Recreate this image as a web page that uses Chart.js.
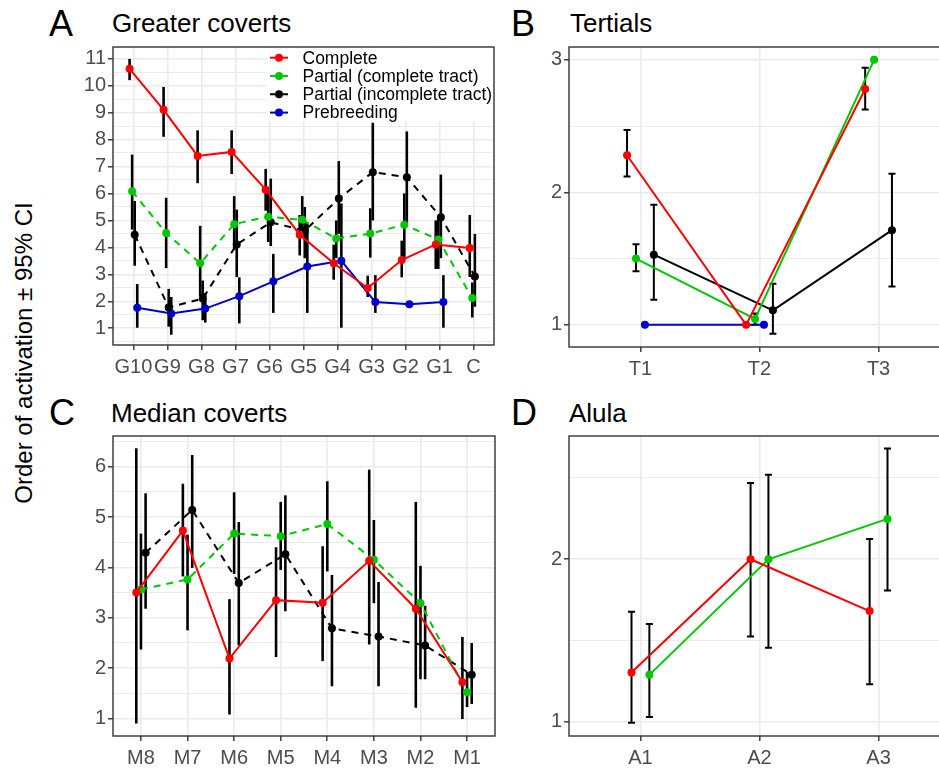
<!DOCTYPE html>
<html>
<head>
<meta charset="utf-8">
<script src="https://cdn.jsdelivr.net/npm/chart.js@4.4.0/dist/chart.umd.min.js"></script>
<style>
  body { margin: 0; width: 939px; height: 769px; overflow: hidden; background: #fff; position: relative;
         font-family: "Liberation Sans", Arial, sans-serif; }
  canvas { position: absolute; }
  .letter { position: absolute; font-size: 36px; line-height: 1; color: #000; }
  .title { position: absolute; font-size: 26px; line-height: 1; color: #000; white-space: nowrap; }
  #ytitle { position: absolute; left: 24px; top: 353px; font-size: 24px; white-space: nowrap; color: #000;
            transform: translate(-50%, -50%) rotate(-90deg); }
</style>
</head>
<body>
<div id="ytitle">Order of activation ± 95% CI</div>
<div class="letter" style="left:49px; top:6px">A</div>
<div class="letter" style="left:511px; top:6px">B</div>
<div class="letter" style="left:49px; top:395px">C</div>
<div class="letter" style="left:511px; top:395px">D</div>
<div class="title" style="left:112px; top:10px">Greater coverts</div>
<div class="title" style="left:570px; top:10px">Tertials</div>
<div class="title" style="left:111px; top:400px">Median coverts</div>
<div class="title" style="left:569px; top:400px">Alula</div>
<canvas id="chartA"></canvas>
<canvas id="chartB"></canvas>
<canvas id="chartC"></canvas>
<canvas id="chartD"></canvas>
<script>
// Panel A - greater coverts
const greaterCats = ['G10', 'G9', 'G8', 'G7', 'G6', 'G5', 'G4', 'G3', 'G2', 'G1', 'C'];
const gcComplete   = [10.62, 9.10, 7.39, 7.54, 6.14, 4.47, 3.41, 2.49, 3.53, 4.11, 3.98];
const gcCompleteLo = [10.2, 8.1, 6.38, 6.72, 5.36, 3.7, 2.8, 2.16, 2.89, 3.2, 2.9];
const gcCompleteHi = [10.99, 9.95, 8.34, 8.34, 6.91, 5.2, 4.1, 2.95, 4.25, 5.0, 5.2];
const gcPartialC   = [6.08, 4.53, 3.41, 4.86, 5.14, 5.02, 4.33, 4.51, 4.84, 4.29, 2.12];
const gcPartialCLo = [4.66, 3.23, 2.2, 3.9, 4.2, 4.4, 3.6, 3.62, 3.6, 3.2, 1.4];
const gcPartialCHi = [7.44, 5.84, 4.8, 5.9, 6.0, 5.9, 5.0, 5.45, 6.0, 5.1, 2.7];
const gcPartialI   = [4.47, 1.77, 2.1, 4.11, 4.93, 4.62, 5.81, 6.79, 6.6, 5.12, 2.92];
const gcPartialILo = [3.32, 1.06, 1.3, 2.9, 4.05, 3.6, 4.5, 5.0, 4.9, 3.6, 1.8];
const gcPartialIHi = [5.72, 2.46, 2.77, 5.4, 6.55, 5.5, 7.2, 8.62, 8.3, 6.7, 4.5];
const gcPrebreed   = [1.76, 1.55, 1.73, 2.19, 2.74, 3.29, 3.5, 1.97, 1.89, 1.97, null];
const gcPrebreedLo = [1.02, 0.76, 1.21, 1.18, 1.57, 1.57, 1.02, 1.57, null, 1.02, null];
const gcPrebreedHi = [2.64, 2.16, 2.3, 2.89, 3.76, 4.9, 5.63, 2.97, null, 2.97, null];

// Panel B - tertials
const tertialCats = ['T1', 'T2', 'T3'];
const teComplete   = [2.28, 1.0, 2.78];
const teCompleteLo = [2.12, null, 2.625];
const teCompleteHi = [2.47, null, 2.94];
const tePartialC   = [1.50, 1.045, 3.0];
const tePartialCLo = [1.405, 1.0, null];
const tePartialCHi = [1.608, 1.086, null];
const tePartialI   = [1.53, 1.11, 1.715];
const tePartialILo = [1.19, 0.933, 1.29];
const tePartialIHi = [1.906, 1.31, 2.14];
const tePrebreed   = [1.0, 1.0, null];

// Panel C - median coverts
const medianCats = ['M8', 'M7', 'M6', 'M5', 'M4', 'M3', 'M2', 'M1'];
const mcComplete   = [3.5, 4.73, 2.19, 3.35, 3.3, 4.13, 3.18, 1.72];
const mcCompleteLo = [0.90, 3.82, 1.08, 2.22, 2.14, 2.47, 1.215, 0.99];
const mcCompleteHi = [6.365, 5.66, 3.37, 4.40, 4.42, 5.94, 5.30, 2.62];
const mcPartialC   = [3.56, 3.76, 4.67, 4.62, 4.86, 4.15, 3.29, 1.52];
const mcPartialCLo = [2.37, 2.75, 3.87, 3.95, 3.92, 3.29, 1.78, 1.23];
const mcPartialCHi = [4.67, 4.65, 5.49, 5.30, 5.71, 4.94, 4.03, 1.93];
const mcPartialI   = [4.29, 5.14, 3.69, 4.26, 2.79, 2.63, 2.45, 1.87];
const mcPartialILo = [3.18, 3.99, 2.45, 3.13, 1.64, 1.64, 1.78, 1.29];
const mcPartialIHi = [5.47, 6.23, 4.9, 5.43, 3.85, 3.71, 3.24, 2.50];

// Panel D - alula
const alulaCats = ['A1', 'A2', 'A3'];
const alComplete   = [1.303, 2.0, 1.681];
const alCompleteLo = [0.994, 1.525, 1.232];
const alCompleteHi = [1.677, 2.469, 2.125];
const alPartialC   = [1.289, 2.0, 2.248];
const alPartialCLo = [1.03, 1.455, 1.808];
const alPartialCHi = [1.602, 2.519, 2.681];

const legendLabels = ['Complete', 'Partial (complete tract)', 'Partial (incomplete tract)', 'Prebreeding'];

const RED = '#FF0000', GREEN = '#00C800', BLACK = '#000000', BLUE = '#0000CD';
const DASH = [7, 6];
const FONT = '"Liberation Sans", Arial, sans-serif';

// error bars drawn under the lines
const errorBars = {
    id: 'errorBars',
    beforeDatasetsDraw(chart, args, opts) {
        const { ctx, chartArea: a, scales: { x, y } } = chart;
        ctx.save();
        ctx.beginPath();
        ctx.rect(a.left, a.top, a.right - a.left, a.bottom - a.top);
        ctx.clip();
        ctx.strokeStyle = '#000';
        ctx.lineWidth = opts.width;
        chart.data.datasets.forEach(ds => {
            if (!ds.lo) return;
            ds.data.forEach((p, j) => {
                if (ds.lo[j] == null) return;
                const px = x.getPixelForValue(p.x);
                const y1 = y.getPixelForValue(ds.lo[j]);
                const y2 = y.getPixelForValue(ds.hi[j]);
                ctx.beginPath();
                ctx.moveTo(px, y1);
                ctx.lineTo(px, y2);
                if (opts.cap) {
                    ctx.moveTo(px - opts.cap, y1); ctx.lineTo(px + opts.cap, y1);
                    ctx.moveTo(px - opts.cap, y2); ctx.lineTo(px + opts.cap, y2);
                }
                ctx.stroke();
            });
        });
        ctx.restore();
    }
};

// panel border on top of everything
const frame = {
    id: 'frame',
    afterDraw(chart) {
        const { ctx, chartArea: a } = chart;
        ctx.save();
        ctx.strokeStyle = '#333333';
        ctx.lineWidth = 1.4;
        ctx.strokeRect(a.left, a.top, a.right - a.left, a.bottom - a.top);
        ctx.restore();
    }
};

// legend sitting inside panel A
const insideLegend = {
    id: 'insideLegend',
    afterDraw(chart, args, opts) {
        if (!opts.items) return;
        const { ctx, chartArea: a } = chart;
        ctx.save();
        ctx.fillStyle = '#fff';
        ctx.fillRect(a.left + 154, a.top + 1, a.right - a.left - 156, 73);
        opts.items.forEach((it, i) => {
            const kx = a.left + 166, ky = a.top + 10.7 + i * 18.3;
            ctx.strokeStyle = it.color;
            ctx.lineWidth = 2;
            ctx.beginPath();
            if (it.dash) {
                ctx.moveTo(kx - 9, ky); ctx.lineTo(kx - 4, ky);
                ctx.moveTo(kx + 4, ky); ctx.lineTo(kx + 9, ky);
            } else {
                ctx.moveTo(kx - 9, ky); ctx.lineTo(kx + 9, ky);
            }
            ctx.stroke();
            ctx.fillStyle = it.color;
            ctx.beginPath();
            ctx.arc(kx, ky, 4, 0, Math.PI * 2);
            ctx.fill();
            ctx.fillStyle = '#000';
            ctx.font = '17.5px ' + FONT;
            ctx.textBaseline = 'middle';
            ctx.fillText(it.label, a.left + 189.5, ky + 1);
        });
        ctx.restore();
    }
};

function makePanel(id, area, cats, yMin, yMax, series, err, legendItems) {
    const padTop = 10, yW = 56, xH = 40, padRight = 4;
    const canvas = document.getElementById(id);
    const w = Math.round(area.right - area.left + yW + padRight);
    const h = Math.round(area.bottom - area.top + padTop + xH);
    canvas.width = w;
    canvas.height = h;
    canvas.style.width = w + 'px';
    canvas.style.height = h + 'px';
    canvas.style.left = (area.left - yW) + 'px';
    canvas.style.top = (area.top - padTop) + 'px';

    const datasets = series.map(s => ({
        data: s.vals.map((v, i) => ({ x: i + s.off, y: v })),
        lo: s.lo, hi: s.hi,
        borderColor: s.color,
        backgroundColor: s.color,
        pointBackgroundColor: s.color,
        pointBorderWidth: 0,
        pointRadius: 4,
        borderWidth: 2,
        borderDash: s.dash || [],
        tension: 0,
        spanGaps: false
    }));

    const isInt = v => Math.abs(v - Math.round(v)) < 1e-6;

    new Chart(canvas, {
        type: 'line',
        data: { datasets },
        plugins: [errorBars, frame, insideLegend],
        options: {
            responsive: false,
            animation: false,
            events: [],
            layout: { padding: { top: padTop, right: padRight, left: 0, bottom: 0 } },
            plugins: {
                legend: { display: false },
                tooltip: { enabled: false },
                errorBars: err,
                insideLegend: { items: legendItems }
            },
            scales: {
                x: {
                    type: 'linear',
                    min: -0.6,
                    max: cats.length - 0.4,
                    afterBuildTicks: sc => { sc.ticks = cats.map((c, i) => ({ value: i })); },
                    afterFit: sc => { sc.height = xH; },
                    ticks: {
                        autoSkip: false, maxRotation: 0, padding: 5,
                        color: '#4D4D4D', font: { family: FONT, size: 20 },
                        callback: v => cats[Math.round(v)]
                    },
                    grid: { color: '#EBEBEB', lineWidth: 1.6, tickColor: '#333333', tickLength: 5, tickWidth: 1.4 },
                    border: { display: false }
                },
                y: {
                    type: 'linear',
                    min: yMin,
                    max: yMax,
                    afterBuildTicks: sc => {
                        const t = [];
                        for (let v = Math.ceil(yMin * 2) / 2; v <= yMax; v += 0.5) t.push({ value: v });
                        sc.ticks = t;
                    },
                    afterFit: sc => { sc.width = yW; },
                    ticks: {
                        autoSkip: false, padding: 2,
                        color: '#4D4D4D', font: { family: FONT, size: 20 },
                        callback: v => isInt(v) ? String(Math.round(v)) : ''
                    },
                    grid: {
                        color: '#EBEBEB',
                        lineWidth: c => isInt(c.tick.value) ? 1.6 : 1.0,
                        tickColor: c => isInt(c.tick.value) ? '#333333' : 'rgba(0,0,0,0)',
                        tickLength: 5, tickWidth: 1.4
                    },
                    border: { display: false }
                }
            }
        }
    });
}

makePanel('chartA', { left: 112.7, top: 43, right: 494, bottom: 345 }, greaterCats, 0.38, 11.43, [
    { vals: gcComplete, lo: gcCompleteLo, hi: gcCompleteHi, color: RED, off: -0.1125 },
    { vals: gcPartialC, lo: gcPartialCLo, hi: gcPartialCHi, color: GREEN, dash: DASH, off: -0.0375 },
    { vals: gcPartialI, lo: gcPartialILo, hi: gcPartialIHi, color: BLACK, dash: DASH, off: 0.0375 },
    { vals: gcPrebreed, lo: gcPrebreedLo, hi: gcPrebreedHi, color: BLUE, off: 0.1125 }
], { width: 2.6, cap: 0 }, [
    { label: legendLabels[0], color: RED },
    { label: legendLabels[1], color: GREEN, dash: true },
    { label: legendLabels[2], color: BLACK, dash: true },
    { label: legendLabels[3], color: BLUE }
]);

makePanel('chartB', { left: 569.3, top: 42.7, right: 950, bottom: 346.7 }, tertialCats, 0.833, 3.097, [
    { vals: teComplete, lo: teCompleteLo, hi: teCompleteHi, color: RED, off: -0.1125 },
    { vals: tePartialC, lo: tePartialCLo, hi: tePartialCHi, color: GREEN, off: -0.0375 },
    { vals: tePartialI, lo: tePartialILo, hi: tePartialIHi, color: BLACK, off: 0.1125 },
    { vals: tePrebreed, color: BLUE, off: 0.0375 }
], { width: 2, cap: 3.5 }, null);

makePanel('chartC', { left: 112.7, top: 431.7, right: 494.6, bottom: 736 }, medianCats, 0.654, 6.607, [
    { vals: mcComplete, lo: mcCompleteLo, hi: mcCompleteHi, color: RED, off: -0.1 },
    { vals: mcPartialC, lo: mcPartialCLo, hi: mcPartialCHi, color: GREEN, dash: DASH, off: 0 },
    { vals: mcPartialI, lo: mcPartialILo, hi: mcPartialIHi, color: BLACK, dash: DASH, off: 0.1 }
], { width: 2.6, cap: 0 }, null);

makePanel('chartD', { left: 569.3, top: 431.7, right: 950, bottom: 736 }, alulaCats, 0.913, 2.758, [
    { vals: alComplete, lo: alCompleteLo, hi: alCompleteHi, color: RED, off: -0.075 },
    { vals: alPartialC, lo: alPartialCLo, hi: alPartialCHi, color: GREEN, off: 0.075 }
], { width: 2, cap: 3.5 }, null);
</script>
</body>
</html>
